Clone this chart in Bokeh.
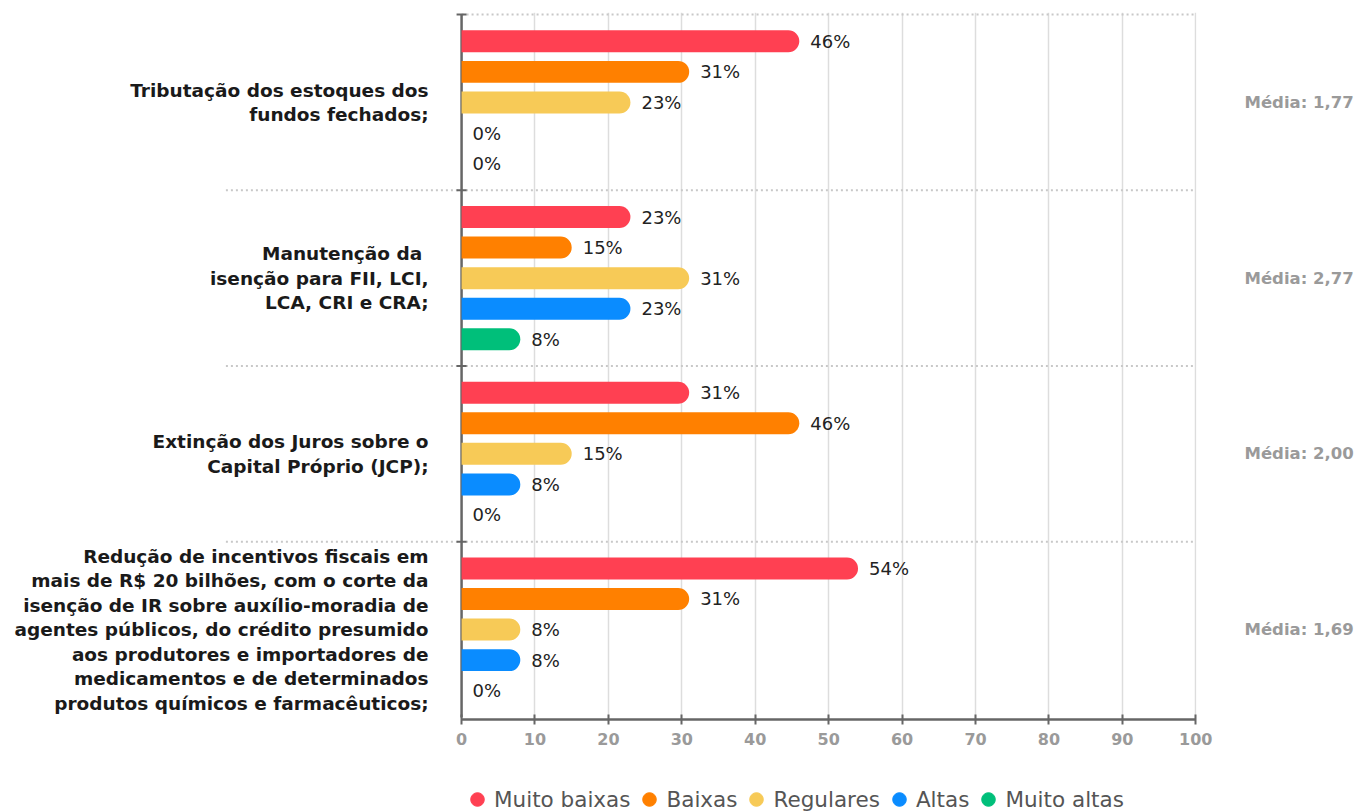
from bokeh.plotting import figure
from bokeh.layouts import column
from bokeh.models import (ColumnDataSource, Range1d, FixedTicker, LinearAxis, Grid,
                          Legend, LegendItem)
from bokeh.core.properties import value
from bokeh.embed import file_html
from bokeh.resources import INLINE

# ---------------- data ----------------
categories = [
    "Tributação dos estoques dos\nfundos fechados;",
    "Manutenção da \nisenção para FII, LCI,\nLCA, CRI e CRA;",
    "Extinção dos Juros sobre o\nCapital Próprio (JCP);",
    "Redução de incentivos fiscais em\nmais de R$ 20 bilhões, com o corte da\nisenção de IR sobre auxílio-moradia de\nagentes públicos, do crédito presumido\naos produtores e importadores de\nmedicamentos e de determinados\nprodutos químicos e farmacêuticos;",
]
medias = ["Média: 1,77", "Média: 2,77", "Média: 2,00", "Média: 1,69"]
series = ["Muito baixas", "Baixas", "Regulares", "Altas", "Muito altas"]
colors = ["#FF4052", "#FF8000", "#F7CA57", "#0A8CFF", "#00BF7A"]
muito_baixas = [46, 23, 31, 54]
baixas = [31, 15, 46, 31]
regulares = [23, 31, 15, 8]
altas = [0, 23, 8, 8]
muito_altas = [0, 8, 0, 0]
x_ticks = [0, 10, 20, 30, 40, 50, 60, 70, 80, 90, 100]

values = [muito_baixas, baixas, regulares, altas, muito_altas]

FONT = "DejaVu Sans"
n_cat = len(categories)
n_ser = len(series)
step = 0.174
bar_h = 0.125
label_area = -32.1   # how far the dotted separators reach into the label column
pad = 0.012
line_px = 24.5

p = figure(width=1362, height=754,
           x_range=Range1d(-62.8, 100.1), y_range=Range1d(n_cat - 0.5 + pad, -0.5 - pad),
           output_backend="svg", toolbar_location=None,
           x_axis_location=None, y_axis_location=None,
           min_border_left=0, min_border_right=166, min_border_top=12, min_border_bottom=35)
p.outline_line_color = None
p.grid.visible = False

# vertical grid
p.add_layout(Grid(dimension=0, ticker=FixedTicker(ticks=x_ticks[1:]),
                  grid_line_color="#dddddd", grid_line_width=1.5))

# dotted separators between groups
sep_y = [i - 0.5 for i in range(n_cat)]
sep_x0 = [x_ticks[0]] + [label_area] * (n_cat - 1)
p.segment(x0=sep_x0, x1=[x_ticks[-1]] * n_cat, y0=sep_y, y1=sep_y,
          line_color="#c8c8c8", line_dash="2 3", line_width=2)

# bottom axis
xa = LinearAxis(ticker=FixedTicker(ticks=x_ticks), bounds=(x_ticks[0], x_ticks[-1]))
xa.axis_line_color = "#666666"
xa.axis_line_width = 2.5
xa.major_tick_line_color = "#666666"
xa.major_tick_line_width = 2
xa.major_tick_in = 5
xa.major_tick_out = 5
xa.minor_tick_line_color = None
xa.major_label_standoff = 8
xa.major_label_text_font = FONT
xa.major_label_text_font_style = "bold"
xa.major_label_text_font_size = "16px"
xa.major_label_text_color = "#9a9a9a"
p.add_layout(xa, "below")

# right axis with averages
ra = LinearAxis(ticker=FixedTicker(ticks=list(range(n_cat))),
                major_label_overrides={i: m for i, m in enumerate(medias)},
                axis_line_color=None, major_tick_line_color=None, minor_tick_line_color=None,
                major_tick_in=0, major_tick_out=0, major_label_standoff=48,
                major_label_text_font=FONT, major_label_text_font_style="bold",
                major_label_text_font_size="16.5px", major_label_text_color="#9a9a9a")
p.add_layout(ra, "right")

# vertical axis line + boundary ticks
p.segment(x0=[x_ticks[0]], x1=[x_ticks[0]], y0=[-0.5], y1=[n_cat - 0.5],
          line_color="#666666", line_width=2.5)
p.scatter(x=[x_ticks[0]] * n_cat, y=sep_y, marker="dash",
          size=10, line_color="#666666", line_width=2)

for j, s in enumerate(series):
    ys = [i + (j - (n_ser - 1) / 2) * step for i in range(n_cat)]
    src = ColumnDataSource(dict(y=ys, v=values[j], label=[f"{v}%" for v in values[j]]))
    nz = [k for k in range(n_cat) if values[j][k] > 0]
    bar_src = ColumnDataSource(dict(y=[ys[k] for k in nz], v=[values[j][k] for k in nz]))
    p.hbar(y="y", left=0, right="v", height=bar_h, source=bar_src,
           fill_color=colors[j], line_color=None, border_radius=(0, 11, 11, 0))
    p.text(x="v", y="y", text="label", source=src, x_offset=11,
           text_baseline="middle", text_align="left", text_font=value(FONT),
           text_font_size="18px", text_color="#222222")

# category labels, one text row per line so every line is right-aligned
lx, ly, lt, lo = [], [], [], []
for i, c in enumerate(categories):
    lines = c.split("\n")
    n = len(lines)
    for k, t in enumerate(lines):
        lx.append(x_ticks[0])
        ly.append(i)
        lt.append(t)
        lo.append((k - (n - 1) / 2) * line_px)
cat_src = ColumnDataSource(dict(x=lx, y=ly, text=lt, off=lo))
p.text(x="x", y="y", text="text", y_offset="off", x_offset=-33, source=cat_src,
       text_align="right", text_baseline="middle", text_font=value(FONT),
       text_font_style="bold", text_font_size="18.5px", text_color="#1a1a1a")

# legend in its own strip
lf = figure(width=1362, height=58, x_range=Range1d(0, 1), y_range=Range1d(0, 1),
            output_backend="svg", toolbar_location=None,
            x_axis_location=None, y_axis_location=None, min_border=0)
lf.outline_line_color = None
lf.grid.visible = False
items = []
for j, s in enumerate(series):
    r = lf.scatter(x=[j], y=[0], size=0, marker="circle",
                   fill_color=colors[j], line_color=colors[j])
    items.append(LegendItem(label=s, renderers=[r]))
legend = Legend(items=items, orientation="horizontal", location=(460, -4),
                label_text_font=FONT, label_text_font_size="21.5px", label_text_color="#555555",
                glyph_width=34, glyph_height=34, label_standoff=-4, spacing=2,
                border_line_color=None, background_fill_alpha=0, padding=0, margin=0)
lf.add_layout(legend)

layout = column(p, lf, spacing=0)
open("out.html", "w").write(file_html(layout, INLINE))
